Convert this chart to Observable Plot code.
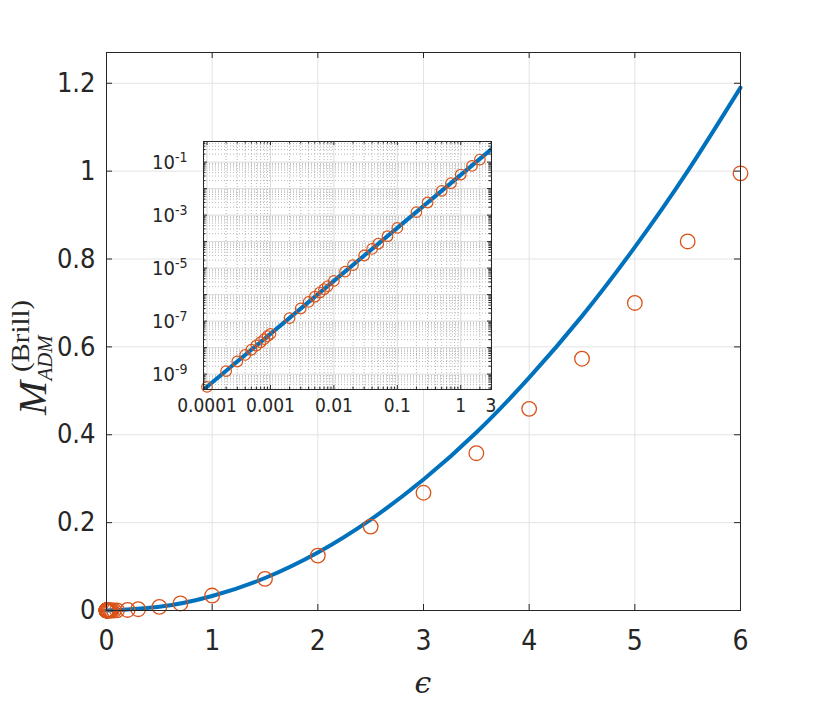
<!DOCTYPE html>
<html><head><meta charset="utf-8">
<script src="https://cdn.jsdelivr.net/npm/d3@7"></script>
<script src="https://cdn.jsdelivr.net/npm/@observablehq/plot@0.6"></script>
<style>
body{margin:0;background:#fff;}
#wrap{position:relative;width:817px;height:708px;overflow:hidden;}
#wrap svg{position:absolute;}
</style></head><body><div id="wrap"></div>
<script>
// ---- data ----
const epsilon = [1e-4,2e-4,3e-4,4e-4,5e-4,6e-4,7e-4,8e-4,9e-4,1e-3,
  2e-3,3e-3,4e-3,5e-3,6e-3,7e-3,8e-3,0.01,0.015,0.02,0.03,0.04,0.05,0.07,0.1,
  0.2,0.3,0.5,0.7,1,1.5,2,2.5,3,3.5,4,4.5,5,5.5,6];
const massNumeric = [3.3e-10,1.3e-9,3.0e-9,5.3e-9,8.3e-9,1.2e-8,1.6e-8,2.1e-8,2.7e-8,3.3e-8,
  1.3e-7,3.0e-7,5.3e-7,8.3e-7,1.2e-6,1.6e-6,2.1e-6,3.3e-6,7.4e-6,1.3e-5,3.0e-5,5.3e-5,8.3e-5,1.6e-4,3.3e-4,
  1.3e-3,3.0e-3,8.2e-3,0.016,0.034,0.072,0.125,0.191,0.268,0.358,0.459,0.573,0.700,0.840,0.995];
const curveEps = [0,0.5,1,1.5,2,2.5,3,3.5,4,4.5,5,5.5,6];
const curveMass = [0,0.0083,0.033,0.074,0.132,0.207,0.298,0.405,0.53,0.67,0.827,1.0,1.19];
const insetCurveEps = [8.8e-5,1e-3,1e-2,0.1,1,3.05];
const insetCurveMass = [2.6e-10,3.3e-8,3.3e-6,3.3e-4,0.033,0.31];
const insetMaxEps = 2;
const xTicks = [0,1,2,3,4,5,6];
const yTicks = [0,0.2,0.4,0.6,0.8,1.0,1.2];
const insetXTicks = [1e-4,1e-3,1e-2,1e-1,1,3];
const insetXTickLabels = ["0.0001","0.001","0.01","0.1","1","3"];
const insetYTicks = [1e-9,1e-7,1e-5,1e-3,1e-1];
const insetYTickExponents = ["-9","-7","-5","-3","-1"];

const BLUE = "#0072BD", ORANGE = "#D95319", INK = "#262626";
const FONT = "'Liberation Sans Narrow','DejaVu Sans Condensed','Arial Narrow',sans-serif";

const points = epsilon.map((e,i)=>({eps:e, m:massNumeric[i]}));
const curve = curveEps.map((e,i)=>({eps:e, m:curveMass[i]}));
const insetCurve = insetCurveEps.map((e,i)=>({eps:e, m:insetCurveMass[i]}));
const insetPoints = points.filter(d=>d.eps<=insetMaxEps);
const insetXLabelData = insetXTicks.map((v,i)=>({v, label:insetXTickLabels[i]}));

// ---- main chart ----
const W=817, H=708, ML=106, MR=77, MT=52, MB=98;
const innerW = W-ML-MR, innerH = H-MT-MB;
const main = Plot.plot({
  width: W, height: H, marginLeft: ML, marginRight: MR, marginTop: MT, marginBottom: MB,
  style: {fontFamily: FONT, background: "transparent", overflow: "visible", color: INK},
  x: {domain: [0,6]},
  y: {domain: [0,1.27]},
  marks: [
    Plot.gridX(xTicks, {stroke:"#e3e3e3", strokeOpacity:1}),
    Plot.gridY(yTicks, {stroke:"#e3e3e3", strokeOpacity:1}),
    Plot.line(curve, {x:"eps", y:"m", stroke:BLUE, strokeWidth:4, curve:"natural"}),
    Plot.dot(points, {x:"eps", y:"m", r:7.3, stroke:ORANGE, strokeWidth:1.3}),
    Plot.frame({stroke:INK}),
    Plot.tickX(xTicks, {x:d=>d, insetTop: innerH-6, stroke:INK}),
    Plot.tickX(xTicks, {x:d=>d, insetBottom: innerH-6, stroke:INK}),
    Plot.tickY(yTicks, {y:d=>d, insetRight: innerW-6, stroke:INK}),
    Plot.tickY(yTicks, {y:d=>d, insetLeft: innerW-6, stroke:INK}),
    Plot.axisX(xTicks, {tickSize:0, tickPadding:20, fontSize:28, label:null, tickFormat:d=>String(d)}),
    Plot.axisY(yTicks, {tickSize:0, tickPadding:11, fontSize:27, label:null, tickFormat:d=>String(+d.toFixed(1))})
  ]
});
main.style.left = "0px"; main.style.top = "0px";
document.getElementById("wrap").appendChild(main);

const ms = d3.select(main);
// x label
ms.append("text").attr("x", ML + innerW/2).attr("y", 693)
  .attr("text-anchor","middle").attr("font-family","'DejaVu Serif','Liberation Serif',serif")
  .attr("font-style","italic").attr("font-size",30).attr("fill",INK).text("ϵ");
// y label  M_{ADM}^{(Brill)}
const serif = "'Liberation Serif','DejaVu Serif',serif";
ms.append("text").attr("transform","translate(46,398) rotate(-90)")
  .attr("font-family",serif).attr("font-style","italic").attr("font-size",41).attr("fill",INK).text("M");
ms.append("text").attr("transform","translate(52,358) rotate(-90)")
  .attr("font-family",serif).attr("font-style","italic").attr("font-size",22).attr("fill",INK)
  .attr("textLength",45).attr("lengthAdjust","spacingAndGlyphs").text("ADM");
ms.append("text").attr("transform","translate(29,336) rotate(-90)")
  .attr("font-family",serif).attr("font-size",26).attr("fill",INK)
  .attr("textLength",72).attr("lengthAdjust","spacingAndGlyphs").text("(Brill)");

// ---- inset ----
const IL=203, IT=141, IW=288, IH=248, iML=50, iMR=12, iMT=10, iMB=36;
const xDom=[8.8e-5,3.05], yDom=[2.63e-10,0.60];
function minorTicks(dom){
  const out=[]; for(let d=-11; d<=1; d++) for(let k=2;k<=9;k++){const v=k*Math.pow(10,d); if(v>=dom[0]&&v<=dom[1]) out.push(v);} return out;
}
function majorTicks(dom){
  const out=[]; for(let d=-11; d<=1; d++){const v=Math.pow(10,d); if(v>=dom[0]&&v<=dom[1]) out.push(v);} return out;
}
const xMinor=minorTicks(xDom), xMajor=majorTicks(xDom), yMinor=minorTicks(yDom), yMajor=majorTicks(yDom);
const inset = Plot.plot({
  width: iML+IW+iMR, height: iMT+IH+iMB, marginLeft:iML, marginRight:iMR, marginTop:iMT, marginBottom:iMB,
  style: {fontFamily: FONT, background:"transparent", overflow:"visible", color: INK},
  x: {type:"log", domain:xDom, axis:null},
  y: {type:"log", domain:yDom},
  marks: [
    Plot.frame({fill:"white", stroke:"none"}),
    Plot.ruleX(xMinor, {x:d=>d, stroke:"#b8b8b8", strokeDasharray:"1,2"}),
    Plot.ruleY(yMinor, {y:d=>d, stroke:"#b8b8b8", strokeDasharray:"1,2"}),
    Plot.ruleX(xMajor, {x:d=>d, stroke:"#dadada"}),
    Plot.ruleY(yMajor, {y:d=>d, stroke:"#dadada"}),
    Plot.line(insetCurve, {x:"eps", y:"m", stroke:BLUE, strokeWidth:4, clip:true}),
    Plot.dot(insetPoints, {x:"eps", y:"m", r:5.3, stroke:ORANGE, strokeWidth:1.2}),
    Plot.frame({stroke:INK}),
    Plot.tickX(xMajor, {x:d=>d, insetTop:IH-4, stroke:INK}),
    Plot.tickX(xMajor, {x:d=>d, insetBottom:IH-4, stroke:INK}),
    Plot.tickX(xMinor, {x:d=>d, insetTop:IH-2.5, stroke:INK}),
    Plot.tickX(xMinor, {x:d=>d, insetBottom:IH-2.5, stroke:INK}),
    Plot.tickY(yMajor, {y:d=>d, insetRight:IW-4, stroke:INK}),
    Plot.tickY(yMajor, {y:d=>d, insetLeft:IW-4, stroke:INK}),
    Plot.tickY(yMinor, {y:d=>d, insetRight:IW-2.5, stroke:INK}),
    Plot.tickY(yMinor, {y:d=>d, insetLeft:IW-2.5, stroke:INK}),
    Plot.text(insetXLabelData, {x:"v", text:"label", frameAnchor:"bottom", lineAnchor:"top", dy:9,
      fontSize:19, fill:INK}),
    Plot.axisY(insetYTicks, {tickSize:0, tickPadding:16, fontSize:20, label:null, tickFormat:()=> "10"})
  ]
});
inset.style.left = (IL-iML)+"px"; inset.style.top = (IT-iMT)+"px";
document.getElementById("wrap").appendChild(inset);
// superscript exponents on inset y tick labels
d3.select(inset).selectAll('g[aria-label="y-axis tick label"] text').each(function(_,i){
  const t=d3.select(this);
  t.text(null);
  t.append("tspan").text("10");
  t.append("tspan").attr("dy","-0.45em").attr("font-size",14).text(insetYTickExponents[i]);
});
</script></body></html>
